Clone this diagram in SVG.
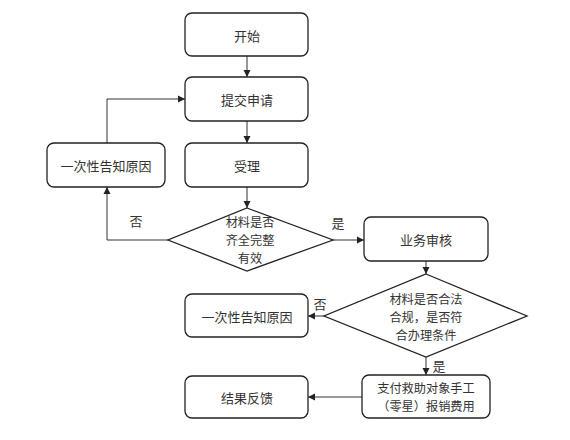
<svg xmlns="http://www.w3.org/2000/svg" width="570" height="440" viewBox="0 0 570 440">
<defs>
<marker id="ah" markerWidth="8" markerHeight="8" refX="7" refY="4" orient="auto" markerUnits="userSpaceOnUse">
<path d="M0,0.5 L7,4 L0,7.5 Z" fill="#222"/>
</marker>
<style>
.box{fill:#fff;stroke:#222;stroke-width:1.3}
.t{font-family:"Noto Sans CJK SC","Noto Sans",sans-serif;font-size:13px;fill:#333;text-anchor:middle;dominant-baseline:central}
.s{font-size:12.2px}
.c{fill:none;stroke:#333;stroke-width:1}
.a{marker-end:url(#ah)}
</style>
</defs>
<rect width="570" height="440" fill="#fff"/>
<g id="connectors">
<line class="c a" x1="247" y1="56" x2="247" y2="77"/>
<line class="c a" x1="247" y1="121" x2="247" y2="143"/>
<line class="c a" x1="247" y1="187" x2="247" y2="208"/>
<polyline class="c a" points="168,240 107,240 107,187"/>
<polyline class="c a" points="107,143 107,99 185,99"/>
<line class="c a" x1="333" y1="240" x2="364" y2="240"/>
<line class="c a" x1="426" y1="261" x2="426" y2="274"/>
<line class="c a" x1="324" y1="316" x2="308" y2="316"/>
<line class="c a" x1="426" y1="357" x2="426" y2="375"/>
<line class="c a" x1="362" y1="397" x2="308" y2="397"/>
<text class="t" x="136" y="220">否</text>
<text class="t" x="338" y="222">是</text>
<text class="t" x="320" y="303">否</text>
<text class="t" x="439" y="365">是</text>
</g>
<g id="start"><rect class="box" x="185" y="13" width="123" height="43" rx="7"/><text class="t" x="247" y="35">开始</text></g>
<g id="submit"><rect class="box" x="185" y="77" width="123" height="44" rx="7"/><text class="t" x="247" y="99">提交申请</text></g>
<g id="accept"><rect class="box" x="185" y="143" width="123" height="44" rx="7"/><text class="t" x="247" y="165">受理</text></g>
<g id="notify1"><rect class="box" x="47" y="143" width="118" height="44" rx="7"/><text class="t" x="106" y="165">一次性告知原因</text></g>
<g id="check1"><polygon class="box" points="247,208 333,240 247,271 168,240"/><text class="t s" x="250" y="222">材料是否</text><text class="t s" x="250" y="240">齐全完整</text><text class="t s" x="250" y="258">有效</text></g>
<g id="review"><rect class="box" x="364" y="217" width="124" height="44" rx="7"/><text class="t" x="426" y="239">业务审核</text></g>
<g id="check2"><polygon class="box" points="426,274 527,316 426,357 324,316"/><text class="t s" x="426" y="299">材料是否合法</text><text class="t s" x="426" y="317">合规，是否符</text><text class="t s" x="426" y="335">合办理条件</text></g>
<g id="notify2"><rect class="box" x="185" y="294" width="123" height="43" rx="7"/><text class="t" x="247" y="316">一次性告知原因</text></g>
<g id="pay"><rect class="box" x="362" y="375" width="128" height="43" rx="7"/><text class="t s" x="426" y="387.5">支付救助对象手工</text><text class="t s" x="426" y="405.5">（零星）报销费用</text></g>
<g id="feedback"><rect class="box" x="185" y="376" width="123" height="42" rx="7"/><text class="t" x="247" y="397">结果反馈</text></g>
</svg>
